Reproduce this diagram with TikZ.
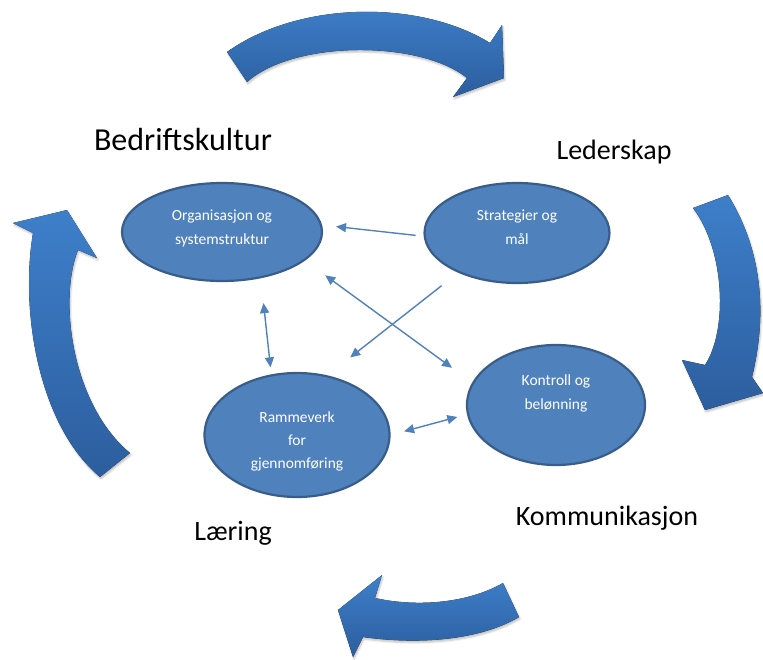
\documentclass[tikz,border=0pt]{standalone}
\usepackage{fontspec}
\setmainfont{Carlito}
\usepackage{tikz}
\usetikzlibrary{shapes,              % ellipses
           arrows.meta,             % pointes de fleches
           shadows.blur,            % ombres des grosses fleches
           positioning}
\definecolor{bleu}{RGB}{79,129,189}
\definecolor{bord}{RGB}{56,93,138}
\definecolor{haut}{RGB}{62,127,202}
\definecolor{bas}{RGB}{44,94,158}

\begin{document}
\begin{tikzpicture}[x=1pt,y=1pt,
  bulle/.style={ellipse, draw=bord, line width=2.2pt, fill=bleu, text=white, inner sep=0pt, align=center, font=\fontsize{15.5}{24}\selectfont},
  fleche/.style={bleu, line width=1.4pt, -{Triangle[length=10pt,width=9pt]}},
  double/.style={fleche, {Triangle[length=10pt,width=9pt]}-{Triangle[length=10pt,width=9pt]}},
  grosse/.style={top color=haut, bottom color=bas, draw=none, blur shadow={shadow xshift=1pt,shadow yshift=-2pt,shadow opacity=25}},
  titre/.style={font=\fontsize{28}{30}\selectfont}]
\useasboundingbox (0,0) rectangle (763,-659);
\fill[grosse](227,-52) .. controls (300,0) and (421,0) .. (490,-43)--(502,-25)--(504,-78)--(453,-97)--(467,-78) .. controls (420,-40) and (294,-40) .. (247,-82)--cycle;
\fill[grosse](728,-195) .. controls (765,-255) and (766,-320) .. (752,-377)--(763,-393)--(705,-410)--(682,-360)--(705,-365) .. controls (728,-330) and (725,-250) .. (693,-208)--cycle;
\fill[grosse](519,-617) .. controls (480,-640) and (420,-645) .. (363,-637)--(353,-657)--(338,-610)--(382,-575)--(375,-598) .. controls (420,-608) and (470,-602) .. (503,-583)--cycle;
\fill[grosse](100,-477) .. controls (38,-425) and (20,-310) .. (33,-233)--(13,-223)--(67,-210)--(97,-258)--(78,-250) .. controls (58,-300) and (72,-405) .. (130,-453)--cycle;
\node[bulle, minimum width=200pt, minimum height=98pt, text depth=9pt] (org) at (222,-232) {Organisasjon og\\systemstruktur};
\node[bulle, minimum width=185pt, minimum height=100pt, text depth=11pt] (strat) at (517,-233) {Strategier og\\mål};
\node[bulle, minimum width=185pt, minimum height=124pt, text height=70pt, font=\fontsize{15.5}{23}\selectfont] (ramme) at (297,-435) {Rammeverk\\for\\gjennomføring};
\node[bulle, minimum width=178pt, minimum height=120pt, text depth=25pt] (kontroll) at (556,-405) {Kontroll og\\belønning};
\node[titre, font=\fontsize{32}{34}\selectfont] (bedrift) at (183,-140) {Bedriftskultur};
\node[titre] (leder) at (614,-152) {Lederskap};
\node[titre] (komm) at (607,-518) {Kommunikasjon};
\node[titre] (laering) at (233,-533) {Læring};
\draw[fleche, shorten <=8pt, shorten >=14pt](strat.182)--(org.4);
\draw[fleche, shorten <=21pt, shorten >=29pt](strat.214)--(ramme.63);
\draw[double, shorten <=25pt, shorten >=25pt](org.-19.5)--(kontroll.165);
\draw[double, shorten <=25pt, shorten >=7pt](org.-50)--(ramme.113);
\draw[double, shorten <=14pt, shorten >=10pt](ramme.0)--(kontroll.186);
\end{tikzpicture}
\end{document}
